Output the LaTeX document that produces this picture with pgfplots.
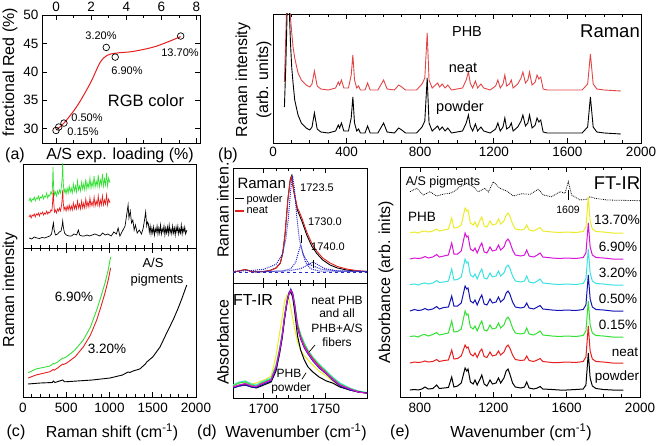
\documentclass[border=0pt]{standalone}
\usepackage{pgfplots}
\pgfplotsset{compat=1.18}
\usepackage{pgfplotstable}
\usepackage{fontspec}
\setmainfont{Liberation Sans}
\newcommand\fs[1]{\fontsize{#1}{#1}\selectfont}
\definecolor{cR}{RGB}{230,30,30}
\definecolor{cRb}{RGB}{225,70,70}
\definecolor{cG}{RGB}{50,225,50}
\definecolor{cB}{RGB}{20,20,180}
\definecolor{cC}{RGB}{60,225,225}
\definecolor{cM}{RGB}{215,20,215}
\definecolor{cY}{RGB}{235,235,40}
\definecolor{cDB}{RGB}{40,40,200}
\pgfplotsset{
 myax/.style={scale only axis, anchor=south west,
   axis line style={line width=0.9pt},
   every tick/.style={black, line width=0.7pt},
   major tick length=5pt, minor tick length=3pt, tick align=inside,
   ticklabel style={font=\fs{13.5}},
   /pgf/number format/assume math mode=true,
   /pgf/number format/1000 sep={},
   ytick=\empty, clip=true},
}
\pgfplotstableread{
x P N G Bl C M Y
745 7 34 60.5 86 112.5 138 164
770 7.5 35 61 87.5 113 139 165
790 7 34.5 60 86.5 112 138.5 164
810 8 35 62 87 113.5 139 165.5
827 10 36 62.5 88.5 114 140.5 166
845 8 35 61 87 113 139 165
870 8.5 35.5 62.5 88 114 140 166
891 12 37.5 64.5 90.5 116.5 142.5 168
905 8.5 35.5 62 88 114.5 140 166
930 9 36.5 63 89.5 115 141 167
955 9.5 37 64 90 116 142 168
973 20 47 76 101 128 154 179
985 10 38 65 91 117 143 169
1005 11 38.5 65.5 91 117.5 143 169.5
1025 14 41 68 94 120 146 172
1046 29 52 86 111 138 164 189
1055 26 49 82 108 134 160 186
1062 28 50 83 109 135 161 187
1075 15 43 70 96 122 148 174
1090 13 41 68 94 120 146 172
1100 17 44 71 97 123 149 175
1112 12 39.5 66 92 118 144 170
1128 18 46 73 99 125 151 177
1137 22 48 76 102 128 154 180
1150 13 40.5 67 93 119 145 171
1165 11 39.5 66 92 118 144 170
1182 17 45 72 98 124 150 176
1195 13 41 68 94 120 146 172
1215 14 42 69 95 121 147 173
1228 19 46 74 100 126 152 178
1240 14 42 69 95 121 147 173
1258 19 45 72 98 124 150 176
1270 26 50 78 104 130 156 182
1280 28 52 80 106 132 158 184
1290 23 49 77 103 129 155 181
1305 14 42 69 95 121 147 173
1320 10 37.5 64 90 116 142 168
1350 9 36.5 63 89 115 141 167
1370 10 37 64 90 116 142 168
1382 15 41 69 94 121 147 172
1395 9 36.5 63 89 115 141 167
1420 8 35.5 62 88 114 140 166
1440 9 37 64 90 116 142 168
1455 10.5 38.5 66 91.5 118 144 169.5
1470 8 35.5 62 88 114 140 166
1520 7.5 34.5 61 87 113 139 165
1560 7 34.5 60.5 86.5 112.5 138.5 164.5
1600 7 35 61 87 113 139 165
1650 7.5 34.5 60.5 86.5 112.5 138.5 164.5
1690 8 35.5 61.5 87.5 113.5 139.5 165.5
1705 12 40 66 92 118 144 170
1718 44 71 96 122 148 174 200
1728 19 46 72 98 124 150 176
1740 11 38 64 90 116 142 168
1760 8.5 35.5 61.5 87.5 113.5 139.5 165.5
1800 7.5 35 61 87 113 139 165
1850 7 34 60 86 112 138 164
1909 7 34 60 86 112 138 164
}\ftir
\pgfplotstableread{
x k r g b c m y
1675 10 11 12 10 13 11 13
1680 12 13 15 12 16 13 15
1685 13 14 16 13 17 14.5 17
1690 11 12 13 11 14 12 14
1694 10 11 12 10.5 13 11.5 15
1698 12 14 15 13 16 14 17
1702 14 16 17 15 18 16 19
1706 16 18 19 17 20 18 22
1710 27 30 32 29 33 31 42
1713 45 48 49 47 51 48 66
1715 60 62 63 61 65 63 80
1717 80 81 82 80 84 82 97
1719 96 97 98 96 99 97 103
1720.5 104 105 105 104 106 104 99
1722 106 107 107 109 108 108 90
1723.5 101 103 104 105 105 104 80
1725 88 93 95 94 96 94 70
1727.5 62 72 74 70 75 71 56
1730 48 61 63 59 64 60 48
1733 38 52 54 50 55 51 42
1736 31 46 47 44 48 45 38
1740 26 39 40 37 41 38 33
1745 21 32 33 30 34 31 27
1751 17 25 26 24 27 24.7 22
1756 15 19 20 18 21 19 17
1762 11 13 14 12 15 13 12
1770 8 9 9.5 8 10 9 8
1777 6 6 6.5 6 7 6 6
1784 5 5 5 5 5.5 4.7 5
}\ftirzoom
\pgfplotstableread{
x p n
62 36 61
70 80 110
78 140 160
88 135 150
95 100 125
102 75 110
109 60 96
118 43 85
136 28 70
154 20 63
180 15 58
200 13 56
212 16 59
225 30 72
240 14 57
260 11 54
300 10 53
340 12 55
355 18 61
362 15 58
372 20 63
385 12 55
410 12 55
425 25 68
434 46 88
443 20 63
455 12 55
465 14 57
475 10 53
500 10 53
514 17 60
528 10 53
570 10 53
601 20 63
620 11 54
660 10 53
683 15 58
700 13 56
720 10 53
780 10 53
810 16 59
825 22 65
838 65 110
848 20 63
865 12 55
895 17 60
905 13 56
920 16 59
935 12 55
950 15 58
970 10 53
1030 12 55
1050 20 63
1062 28 71
1072 17 60
1085 12 55
1100 19 62
1112 12 55
1130 16 59
1145 12 55
1180 10 53
1210 14 57
1222 20 63
1235 12 55
1250 16 59
1260 25 68
1270 14 57
1285 16 59
1295 20 63
1305 12 55
1330 16 59
1348 22 65
1358 28 71
1372 17 60
1385 20 63
1394 28 71
1408 15 58
1425 18 61
1435 25 68
1445 21 64
1455 23 66
1468 11 54
1490 10 53
1600 10 53
1680 10 53
1710 16 59
1725 46 89
1740 16 59
1760 11 54
1800 10 53
1890 9 52
}\raman
\begin{document}
\begin{tikzpicture}
% ---------- (a)
\begin{axis}[myax, at={(42pt,302pt)}, width=158pt, height=128pt,
  xmin=-0.8, xmax=8.2, ymin=27.5, ymax=50,
  xtick={0,2,4,6,8}, minor x tick num=1, ytick={30,35,40,45,50},
  xticklabel pos=right, xtick pos=both, ytick pos=both]
\addplot[cR, line width=1pt, smooth] coordinates {(0,29.8)(0.45,31)(1.2,34)(1.95,38)(2.5,41.6)(2.9,42.9)(3.4,43.3)(4.4,43.6)(5.7,44.5)(7.1,46.2)};
\addplot[only marks, mark=o, mark size=3.3pt, black, mark options={line width=0.7pt}] coordinates {(0,29.7)(0.15,30.3)(0.45,31)(2.86,44.3)(3.37,42.6)(7.1,46.3)};
\end{axis}
% ---------- (b)
\begin{axis}[myax, at={(273pt,302pt)}, width=368pt, height=129pt,
  xmin=0, xmax=2000, ymin=0, ymax=129,
  xtick={0,400,...,2000}, minor x tick num=3, xtick pos=both,
  xticklabel style={yshift=-1pt}]
\addplot[cRb, line width=0.9pt] table[x=x,y=n] {\raman};
\addplot[black, line width=0.9pt] table[x=x,y=p] {\raman};
\end{axis}
% ---------- (c) upper
\begin{axis}[myax, at={(23pt,197pt)}, width=173pt, height=84pt,
  xmin=0, xmax=2000, ymin=0, ymax=84,
  xtick={0,500,...,2000}, minor x tick num=4, xtick pos=left, xticklabels={}]
\addplot[cG, line width=0.7pt] coordinates {(70,47)(82,50)(94,46)(106,49)(118,48)(130,51)(142,47)(154,50)(166,49)(178,52)(190,48)(202,51)(214,50)(226,53)(238,49)(250,52)(262,51)(274,55)(286,50)(298,53)(310,52)(322,56)(334,54)(341,62)(347,81)(353,63)(362,53)(374,56)(386,52)(398,57)(410,54)(422,58)(434,55)(446,63)(452,70)(459,86)(465,66)(474,55)(486,59)(498,54)(510,60)(522,55)(534,62)(546,56)(558,60)(570,55)(582,64)(594,57)(606,62)(618,56)(630,67)(642,58)(654,62)(666,57)(678,66)(690,59)(702,64)(714,58)(726,69)(738,59)(750,65)(762,60)(774,70)(786,60)(798,66)(810,61)(822,72)(834,61)(846,67)(858,62)(870,73)(882,61)(894,68)(906,63)(918,74)(930,62)(942,69)(954,63)(966,75)(978,62)(990,70)(1006,65)};
\addplot[cR, line width=0.7pt] coordinates {(70,31)(82,33)(94,30)(106,33)(118,32)(130,34)(142,31)(154,34)(166,33)(178,35)(190,32)(202,35)(214,34)(226,36)(238,33)(250,35)(262,34)(274,37)(286,34)(298,36)(310,35)(322,38)(334,37)(341,44)(350,58)(356,45)(364,36)(374,38)(386,35)(398,39)(410,37)(422,40)(434,37)(446,43)(452,48)(459,58)(465,46)(474,38)(486,41)(498,37)(510,42)(522,38)(534,43)(546,38)(558,42)(570,38)(582,45)(594,39)(606,43)(618,39)(630,47)(642,40)(654,44)(666,39)(678,47)(690,40)(702,45)(714,40)(726,49)(738,41)(750,46)(762,41)(774,50)(786,42)(798,46)(810,42)(822,51)(834,42)(846,47)(858,43)(870,52)(882,42)(894,48)(906,43)(918,52)(930,43)(942,48)(954,44)(966,53)(978,43)(990,49)(1006,45)};
\addplot[black, line width=0.7pt] coordinates {(70,10)(100,9)(130,11)(160,10)(190,9.5)(220,10.5)(250,10)(280,11)(310,12)(330,14)(345,22)(352,25)(360,18)(375,13)(400,14)(420,16)(440,17)(452,22)(459,27)(466,21)(480,15)(500,13)(530,12)(560,12)(590,14)(620,13)(640,18)(655,13)(680,12)(710,12)(740,13)(770,12)(800,13)(830,14)(860,13)(890,12)(920,15)(950,13)(980,14)(1000,13)(1020,12)(1050,16)(1080,14)(1100,20)(1120,12)(1150,17)(1180,22)(1200,34)(1215,43)(1225,30)(1240,37)(1255,25)(1270,28)(1285,18)(1300,23)(1320,15)(1345,18)(1370,14)(1390,20)(1405,28)(1418,36)(1430,22)(1440,26)(1450,24)(1460,16)(1470,22)(1480,14)(1490,20)(1500,15)(1510,21)(1520,13)(1530,19)(1540,16)(1550,22)(1560,14)(1570,20)(1580,15)(1590,23)(1600,14)(1610,19)(1620,16)(1630,22)(1640,13)(1650,20)(1660,15)(1670,21)(1680,14)(1690,23)(1700,15)(1710,19)(1720,14)(1730,22)(1740,15)(1750,20)(1760,13)(1770,21)(1780,16)(1790,22)(1800,14)(1810,19)(1820,15)(1830,23)(1840,14)(1850,20)(1860,16)(1870,21)(1880,14)(1895,18)};
\end{axis}
% ---------- (c) lower
\begin{axis}[myax, at={(23pt,48pt)}, width=173pt, height=149pt,
  xmin=0, xmax=2000, ymin=0, ymax=149,
  xtick={0,500,...,2000}, minor x tick num=4, xtick pos=both,
  xticklabel style={yshift=-3pt}]
\addplot[black, line width=0.9pt] coordinates {(58,13)(200,14)(340,14.5)(350,16)(370,14.5)(459,17)(480,15.3)(505,15.3)(800,17)(1006,19)(1150,22)(1215,25)(1235,24.5)(1272,26)(1350,28)(1415,33)(1430,35)(1500,40)(1584,50)(1650,62)(1735,77)(1790,88)(1835,98)(1893,112)};
\addplot[cR, line width=0.9pt] coordinates {(60,19)(150,22)(312,25.3)(350,27.5)(360,26.8)(400,29)(459,33)(470,32.5)(505,34)(600,40)(697,50)(780,62)(852,77)(900,90)(948,104)(985,117)(1013,129)};
\addplot[cG, line width=0.9pt] coordinates {(60,24.3)(150,28)(312,31)(350,33.5)(360,33)(400,35)(459,39)(470,38.8)(505,40.3)(600,47)(697,57)(780,70)(852,87)(900,100)(948,114)(985,127)(1013,140)};
\end{axis}
% ---------- (d) upper
\begin{axis}[myax, at={(233pt,162pt)}, width=134pt, height=115pt,
  xmin=1675, xmax=1784, ymin=0, ymax=115,
  xtick={1700,1750}, minor x tick num=4, xtick pos=both, xticklabels={},
  legend style={at={(0.01,0.79)}, anchor=north west, draw=none, fill=none, font=\fs{11}, inner sep=0pt, outer sep=0pt, row sep=-1pt, /tikz/every even column/.append style={column sep=1pt}},
  legend cell align=left,
  legend image code/.code={\draw[#1, line width=1.2pt] (0pt,0pt) -- (9pt,0pt);}]
\addplot[black, line width=0.9pt] coordinates {(1675,11)(1680,12)(1685,13.5)(1690,11.5)(1695,11)(1700,11.5)(1705,12.5)(1710,15)(1713.4,19.7)(1715.5,30)(1717.4,49.7)(1719.6,83)(1721.5,103)(1722.5,107)(1724.7,90)(1727.4,73)(1729,68)(1731,62)(1735,48)(1739,37)(1743,29.7)(1748,23)(1754,18)(1760,15)(1767.5,13)(1775,12)(1784,11.5)};
\addlegendentry{powder}
\addplot[cR, line width=0.9pt] coordinates {(1675,11)(1680,12)(1685,13.5)(1690,11.5)(1695,11)(1700,11.5)(1705,12.5)(1710,15)(1713.4,19.7)(1715.5,30)(1717.4,49.7)(1719.6,83)(1721.5,102)(1722.5,106)(1724.7,91)(1727.4,75)(1729,71)(1731,65)(1735,51)(1739,40)(1743,32)(1748,25)(1754,20)(1760,16.5)(1767.5,14)(1775,12.5)(1784,11.5)};
\addlegendentry{neat}
\addplot[cDB, densely dotted, line width=1pt, forget plot] coordinates {(1675,11.7)(1690,12.5)(1700,13.7)(1710,18.7)(1715,28.3)(1718,43.9)(1720,64.8)(1722,94.3)(1723.5,106)(1725,94.3)(1727,64.8)(1729,43.9)(1732,28.3)(1737,18.7)(1747,13.7)(1760,12.2)(1784,11.6)};
\addplot[cDB, densely dotted, line width=1pt, forget plot] coordinates {(1700,11.3)(1715,12)(1722,14.3)(1726,20.7)(1728,29.7)(1730,38)(1732,29.7)(1734,20.7)(1738,14.3)(1745,12)(1784,11.2)};
\addplot[cDB, densely dotted, line width=1pt, forget plot] coordinates {(1690,11.2)(1710,11.8)(1720,12.1)(1730,14.3)(1735,17.6)(1740,21)(1745,17.6)(1750,14.3)(1760,12.1)(1784,11.4)};
\addplot[cDB, dashed, line width=0.8pt, forget plot] coordinates {(1675,11)(1784,11)};
\addplot[black, line width=0.9pt, forget plot] coordinates {(1730.4,40)(1730.4,48)};
\addplot[black, line width=0.9pt, forget plot] coordinates {(1740.5,15)(1740.5,23)};
\end{axis}
% ---------- (d) lower
\begin{axis}[myax, at={(233pt,47pt)}, width=134pt, height=115pt,
  xmin=1675, xmax=1784, ymin=0, ymax=115,
  xtick={1700,1750}, minor x tick num=4, xtick pos=both,
  xticklabel style={yshift=-3pt}]
\addplot[cY, line width=1pt] table[x=x,y=y] {\ftirzoom};
\addplot[cC, line width=1pt] table[x=x,y=c] {\ftirzoom};
\addplot[cG, line width=1pt] table[x=x,y=g] {\ftirzoom};
\addplot[cR, line width=1pt] table[x=x,y=r] {\ftirzoom};
\addplot[black, line width=1pt] table[x=x,y=k] {\ftirzoom};
\addplot[cB, line width=1pt] table[x=x,y=b] {\ftirzoom};
\addplot[cM, line width=1pt] table[x=x,y=m] {\ftirzoom};
\addplot[black, line width=0.7pt] coordinates {(1737.1,46.3)(1741.7,53)};
\addplot[black, line width=0.7pt] coordinates {(1731,18.7)(1734.5,25.3)};
\end{axis}
% ---------- (e)
\begin{axis}[myax, at={(400pt,48pt)}, width=240pt, height=230pt,
  xmin=691, xmax=2000, ymin=0, ymax=230,
  xtick={800,1200,1600,2000}, minor x tick num=3, xtick pos=both,
  xticklabel style={yshift=-3pt}]
\addplot[black, densely dotted, line width=0.8pt] coordinates {(746,205.3)(782,208.7)(818,202)(855,205.3)(891,201)(930,203)(964,203.7)(990,206)(1018,210.3)(1055,213.7)(1091,210.3)(1118,205.3)(1155,208.7)(1173,205)(1200,215.3)(1236,208.7)(1273,206)(1309,201)(1355,203.3)(1400,202.7)(1445,207.7)(1473,202)(1518,200.3)(1564,205.3)(1591,203.7)(1609,215.3)(1627,202)(1673,197)(1709,197.7)(1727,200.3)(1755,198.7)(1818,197)(2000,196.3)};
\addplot[black, line width=0.8pt] coordinates {(1609,197)(1609,207)};
\addplot[cY, line width=1pt] table[x=x,y=Y] {\ftir};
\addplot[cM, line width=1pt] table[x=x,y=M] {\ftir};
\addplot[cC, line width=1pt] table[x=x,y=C] {\ftir};
\addplot[cB, line width=1pt] table[x=x,y=Bl] {\ftir};
\addplot[cG, line width=1pt] table[x=x,y=G] {\ftir};
\addplot[cR, line width=1pt] table[x=x,y=N] {\ftir};
\addplot[black, line width=1pt] table[x=x,y=P] {\ftir};
\end{axis}
% ---------- texts
% (a)
\node[font=\fs{11}] at (101pt,409pt) {3.20\%};
\node[font=\fs{11}] at (180pt,392.5pt) {13.70\%};
\node[font=\fs{11}] at (127pt,374pt) {6.90\%};
\node[font=\fs{11}] at (87pt,327pt) {0.50\%};
\node[font=\fs{11}] at (83pt,313pt) {0.15\%};
\node[font=\fs{16.5}] at (146pt,344pt) {RGB color};
\node[font=\fs{16}] at (120pt,290pt) {A/S exp. loading (\%)};
\node[font=\fs{16}] at (15pt,290pt) {(a)};
\node[font=\fs{16}, rotate=90] at (10pt,373pt) {fractional Red (\%)};
% (b)
\node[font=\fs{16}, rotate=90] at (243pt,365pt) {Raman intensity};
\node[font=\fs{16}, rotate=90] at (264pt,365pt) {(arb. units)};
\node[font=\fs{14.5}] at (467pt,413pt) {PHB};
\node[font=\fs{14.5}] at (463pt,377pt) {neat};
\node[font=\fs{14.5}] at (460pt,337pt) {powder};
\node[font=\fs{18.5}] at (610pt,414pt) {Raman};
\node[font=\fs{16}] at (228pt,290pt) {(b)};
% (c)
\node[font=\fs{16}, rotate=90] at (10pt,155pt) {Raman intensity};
\node[font=\fs{13}] at (153pt,182pt) {A/S};
\node[font=\fs{13}] at (157pt,165pt) {pigments};
\node[font=\fs{13.5}] at (74pt,148pt) {6.90\%};
\node[font=\fs{13.5}] at (107pt,96pt) {3.20\%};
\node[font=\fs{16}] at (16pt,13pt) {(c)};
\node[font=\fs{16}] at (112pt,13pt) {Raman shift (cm\textsuperscript{-1})};
% (d)
\node[font=\fs{16}, rotate=90] at (223pt,235pt) {Raman inten.};
\node[font=\fs{16}, rotate=90] at (223pt,103pt) {Absorbance};
\node[font=\fs{15}, anchor=west] at (234pt,262pt) {Raman};
\node[font=\fs{11}] at (317pt,257pt) {1723.5};
\node[font=\fs{11}] at (325pt,223pt) {1730.0};
\node[font=\fs{11}] at (328pt,198pt) {1740.0};
\node[font=\fs{16}] at (253pt,145pt) {FT-IR};
\node[font=\fs{12}] at (337pt,145pt) {neat PHB};
\node[font=\fs{12}] at (337pt,132pt) {and all};
\node[font=\fs{12}] at (337pt,117pt) {PHB+A/S};
\node[font=\fs{12}] at (337pt,103pt) {fibers};
\node[font=\fs{12}] at (289pt,72pt) {PHB};
\node[font=\fs{12}] at (291pt,57pt) {powder};
\node[font=\fs{16}] at (207pt,13pt) {(d)};
\node[font=\fs{16}] at (296pt,13pt) {Wavenumber (cm\textsuperscript{-1})};
% (e)
\node[font=\fs{16}, rotate=90] at (386pt,163pt) {Absorbance (arb. inits)};
\node[font=\fs{12.5}] at (443pt,263pt) {A/S pigments};
\node[font=\fs{18.5}] at (617pt,262pt) {FT-IR};
\node[font=\fs{10.5}] at (568pt,235pt) {1609};
\node[font=\fs{13.5}] at (422pt,228pt) {PHB};
\node[font=\fs{13.5}] at (617pt,225pt) {13.70\%};
\node[font=\fs{13.5}] at (618pt,198pt) {6.90\%};
\node[font=\fs{13.5}] at (618pt,172pt) {3.20\%};
\node[font=\fs{13.5}] at (618pt,146pt) {0.50\%};
\node[font=\fs{13.5}] at (618pt,120pt) {0.15\%};
\node[font=\fs{13.5}] at (625pt,93pt) {neat};
\node[font=\fs{13.5}] at (617pt,68pt) {powder};
\node[font=\fs{16}] at (400pt,13pt) {(e)};
\node[font=\fs{16}] at (521pt,13pt) {Wavenumber (cm\textsuperscript{-1})};
\pgfresetboundingbox
\path (0pt,0pt) rectangle (660pt,445pt);
\end{tikzpicture}
\end{document}
